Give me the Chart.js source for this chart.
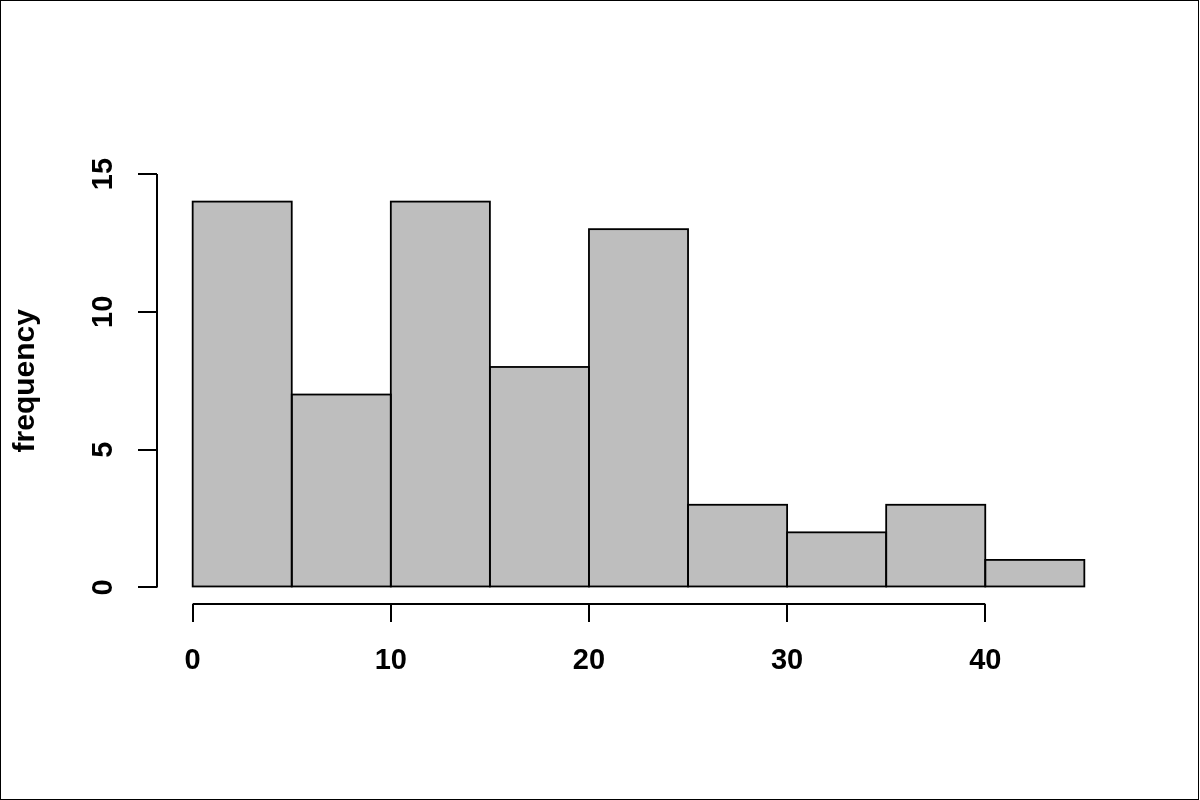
<!DOCTYPE html>
<html>
<head>
<meta charset="utf-8">
<script src="https://cdn.jsdelivr.net/npm/chart.js@4"></script>
<style>
  html, body { margin: 0; padding: 0; background: #fff; }
  canvas { display: block; }
</style>
</head>
<body>
<canvas id="histChart" width="1200" height="800"></canvas>
<script>
// histogram bins (5 wide) and counts
const binEdges = [0, 5, 10, 15, 20, 25, 30, 35, 40, 45];
const counts = [14, 7, 14, 8, 13, 3, 2, 3, 1];
const xTicks = [0, 10, 20, 30, 40];
const yTicks = [0, 5, 10, 15];
const yLabel = 'frequency';

const fontFamily = '"Liberation Sans", Arial, Helvetica, sans-serif';

const points = counts.map((c, i) => ({ x: (binEdges[i] + binEdges[i + 1]) / 2, y: c }));

// outline bars centred on their edges, so neighbours share one line (like R's rect)
const barOutline = {
  id: 'barOutline',
  afterDatasetsDraw(chart) {
    const ctx = chart.ctx;
    ctx.save();
    ctx.strokeStyle = '#000';
    ctx.lineWidth = 1.8;
    chart.getDatasetMeta(0).data.forEach(bar => {
      const { x, y, base, width } = bar.getProps(['x', 'y', 'base', 'width'], true);
      ctx.strokeRect(x - width / 2, y, width, base - y);
    });
    ctx.restore();
  }
};

// R style: axis lines only run between first and last tick, y tick labels rotated
const rAxes = {
  id: 'rAxes',
  afterDraw(chart) {
    const ctx = chart.ctx;
    const x = chart.scales.x, y = chart.scales.y;
    const area = chart.chartArea;
    ctx.save();
    ctx.strokeStyle = '#000';
    ctx.lineWidth = 2;
    ctx.beginPath();
    ctx.moveTo(x.getPixelForValue(xTicks[0]), area.bottom);
    ctx.lineTo(x.getPixelForValue(xTicks[xTicks.length - 1]), area.bottom);
    ctx.moveTo(area.left, y.getPixelForValue(yTicks[0]));
    ctx.lineTo(area.left, y.getPixelForValue(yTicks[yTicks.length - 1]));
    ctx.stroke();

    ctx.fillStyle = '#000';
    ctx.font = 'bold 29px ' + fontFamily;
    ctx.textAlign = 'center';
    ctx.textBaseline = 'alphabetic';
    yTicks.forEach(v => {
      ctx.save();
      ctx.translate(area.left - 45, y.getPixelForValue(v));
      ctx.rotate(-Math.PI / 2);
      ctx.fillText(String(v), 0, 0);
      ctx.restore();
    });

    // outer frame
    ctx.lineWidth = 1;
    ctx.strokeRect(0.5, 0.5, chart.width - 2, chart.height - 1);
    ctx.restore();
  }
};

const ctx = document.getElementById('histChart').getContext('2d');
const chart = new Chart(ctx, {
  type: 'bar',
  data: {
    datasets: [{
      data: points,
      backgroundColor: '#bebebe',
      borderWidth: 0,
      barPercentage: 1,
      categoryPercentage: 1
    }]
  },
  options: {
    responsive: false,
    devicePixelRatio: 1,
    animation: false,
    layout: { padding: { top: 157.5, right: 80, left: 0, bottom: 0 } },
    plugins: { legend: { display: false }, tooltip: { enabled: false } },
    scales: {
      x: {
        type: 'linear',
        offset: false,
        min: -1.8,
        max: 46.8,
        afterBuildTicks: s => { s.ticks = xTicks.map(v => ({ value: v })); },
        afterFit: s => { s.height = 196; },
        border: { display: false },
        grid: { offset: false, drawOnChartArea: false, drawTicks: true, tickLength: 18, color: '#000', lineWidth: 2 },
        ticks: {
          color: '#000',
          padding: 22,
          maxRotation: 0,
          font: { family: fontFamily, size: 29, weight: 'bold' }
        }
      },
      y: {
        type: 'linear',
        min: -0.6,
        max: 15.6,
        afterBuildTicks: s => { s.ticks = yTicks.map(v => ({ value: v })); },
        afterFit: s => { s.width = 157; },
        border: { display: false },
        grid: { drawOnChartArea: false, drawTicks: true, tickLength: 19, color: '#000', lineWidth: 2 },
        ticks: { color: 'rgba(0,0,0,0)', font: { family: fontFamily, size: 29, weight: 'bold' } },
        title: {
          display: true,
          text: yLabel,
          color: '#000',
          padding: { top: 8, bottom: 0 },
          font: { family: fontFamily, size: 30, weight: 'bold' }
        }
      }
    }
  },
  plugins: [barOutline, rAxes]
});
</script>
</body>
</html>
